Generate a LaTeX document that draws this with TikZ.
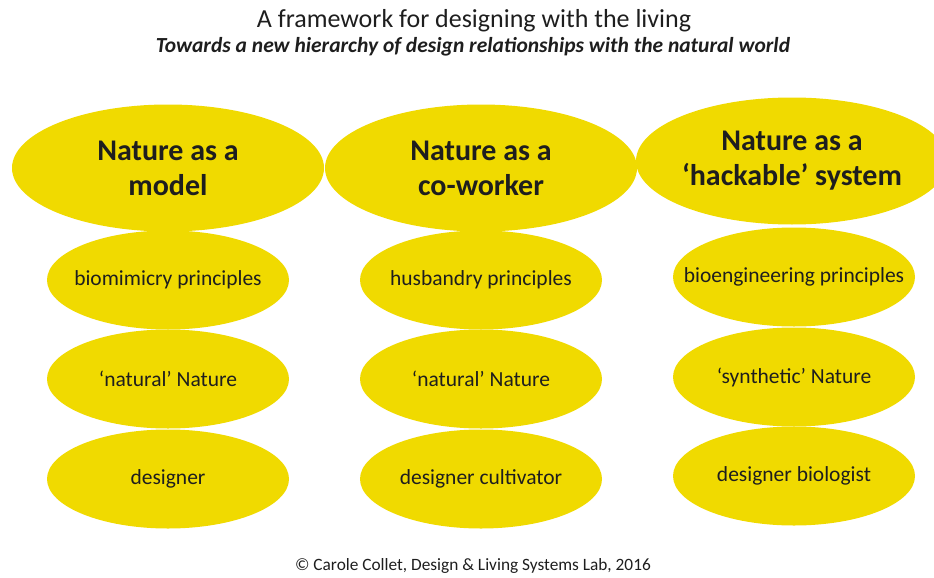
\documentclass[tikz,border=0pt]{standalone}
\usepackage{fontspec}
\setmainfont{Carlito}
\usepackage{tikz}
\usetikzlibrary{shapes.geometric}
\definecolor{natyellow}{RGB}{240,218,0}
\definecolor{inkgray}{RGB}{30,30,30}

\begin{document}
\begin{tikzpicture}[x=1pt, y=-1pt,
    hd/.style={ellipse, fill=natyellow, inner sep=0pt, inner xsep=-60pt,
               minimum width=312pt, minimum height=127pt, align=center,
               text=inkgray, font=\fontsize{30}{35}\selectfont\bfseries},
    item/.style={ellipse, fill=natyellow, inner sep=0pt, inner xsep=-60pt,
                 minimum width=242pt, minimum height=99pt, align=center,
                 text=inkgray, font=\fontsize{21.5}{24}\selectfont}
  ]
    \useasboundingbox (0,0) rectangle (934,578);

    % Title lines
    \node[font=\fontsize{26}{30}\selectfont, text=inkgray] (title) at (474,21)
      {A framework for designing with the living};
    \node[font=\fontsize{21.5}{25}\selectfont\bfseries\itshape, text=inkgray] (sub) at (473,47)
      {Towards a new hierarchy of design relationships with the natural world};

    % Model column
    \node[hd]   (m-hd) at (168,168) {Nature as a\\model};
    \node[item] (m-1)  at (168,280) {biomimicry principles};
    \node[item] (m-2)  at (168,379) {‘natural’ Nature};
    \node[item] (m-3)  at (168,479) {designer};

    % Co-worker column
    \node[hd]   (c-hd) at (481,168) {Nature as a\\co-worker};
    \node[item] (c-1)  at (481,280) {husbandry principles};
    \node[item] (c-2)  at (481,379) {‘natural’ Nature};
    \node[item] (c-3)  at (481,479) {designer cultivator};

    % Hackable column
    \node[hd]   (h-hd) at (792,161) {Nature as a\\‘hackable’ system};
    \node[item] (h-1)  at (794,277) {bioengineering principles};
    \node[item] (h-2)  at (794,377) {‘synthetic’ Nature};
    \node[item] (h-3)  at (794,476) {designer biologist};

    % Credit line
    \node[font=\fontsize{17.3}{20}\selectfont, text=inkgray] (credit) at (473,566)
      {© Carole Collet, Design \& Living Systems Lab, 2016};
  \end{tikzpicture}
\end{document}
